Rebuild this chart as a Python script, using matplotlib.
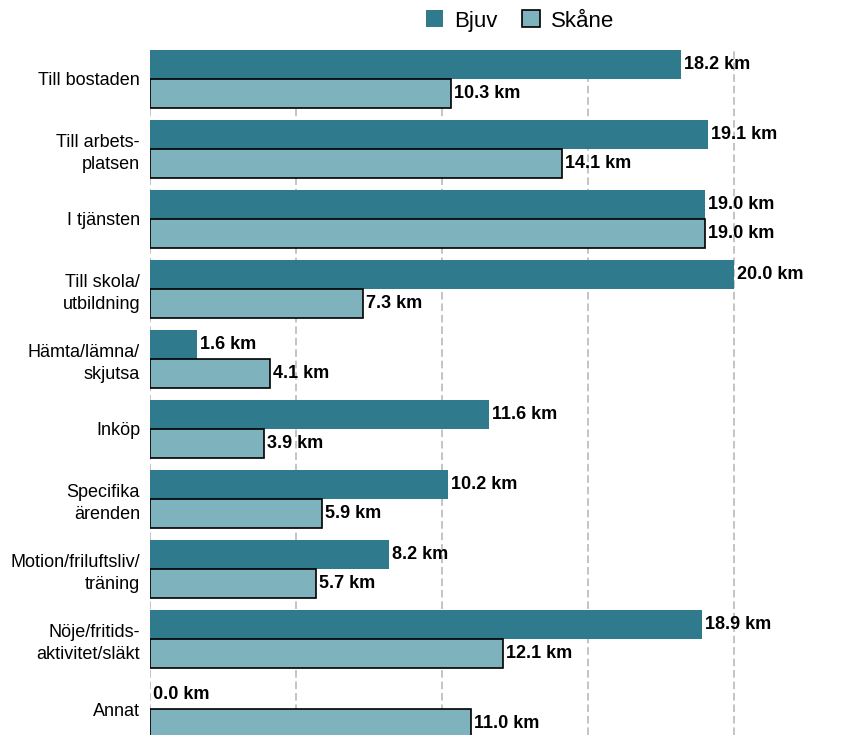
import matplotlib
matplotlib.use("Agg")
import matplotlib.pyplot as plt
import numpy as np

categories = ["Till bostaden", "Till arbets-\nplatsen", "I tjänsten", "Till skola/\nutbildning",
              "Hämta/lämna/\nskjutsa", "Inköp", "Specifika\närenden", "Motion/friluftsliv/\nträning",
              "Nöje/fritids-\naktivitet/släkt", "Annat"]
bjuv = [18.2, 19.1, 19.0, 20.0, 1.6, 11.6, 10.2, 8.2, 18.9, 0.0]
skane = [10.3, 14.1, 19.0, 7.3, 4.1, 3.9, 5.9, 5.7, 12.1, 11.0]
series_names = ["Bjuv", "Skåne"]
grid_ticks = [0, 5, 10, 15, 20]

plt.rcParams['font.family'] = ['Liberation Sans', 'DejaVu Sans']

W, H = 867, 735
fig = plt.figure(figsize=(W / 100, H / 100), dpi=100)
ax = fig.add_axes([150 / W, 0, 1 - 150 / W, 1 - 48 / H])

c_bjuv = "#2f7a8c"
c_skane = "#7eb2bc"
y = np.arange(len(categories))
h = 0.41

b1 = ax.barh(y - h / 2, bjuv, height=h, color=c_bjuv, edgecolor="none", zorder=3, label=series_names[0])
b2 = ax.barh(y + h / 2, skane, height=h, color=c_skane, edgecolor="black", linewidth=1.2, zorder=3,
             label=series_names[1])

for bars, vals in ((b1, bjuv), (b2, skane)):
    for bar, v in zip(bars, vals):
        ax.annotate(f"{v:.1f} km", (v, bar.get_y() + bar.get_height() / 2),
                    xytext=(3, 0), textcoords="offset pixels", ha="left", va="center",
                    fontsize=13, fontweight="bold", color="black", zorder=4)

ax.set_xlim(0, (W - 150) / 29.2)
ax.set_ylim(9.37, -0.44)
ax.set_xticks(grid_ticks)
ax.set_xticklabels([])
ax.tick_params(axis="x", length=0)
ax.grid(axis="x", color="#b4b4b4", linestyle=(0, (5, 2.5)), linewidth=1.1, zorder=0)
ax.set_axisbelow(True)
ax.set_yticks(y)
ax.set_yticklabels(categories, fontsize=13, ha="right", multialignment="right", linespacing=1.4)
ax.tick_params(axis="y", length=0, pad=7.2)
for s in ax.spines.values():
    s.set_visible(False)

fig.legend(handles=[b1, b2], labels=series_names, loc="center", bbox_to_anchor=(520 / W, 1 - 21 / H),
           ncol=2, frameon=False, fontsize=16, handlelength=0.8, handleheight=0.8,
           handletextpad=0.5, columnspacing=1.1)

fig.savefig("out.png", dpi=100)
